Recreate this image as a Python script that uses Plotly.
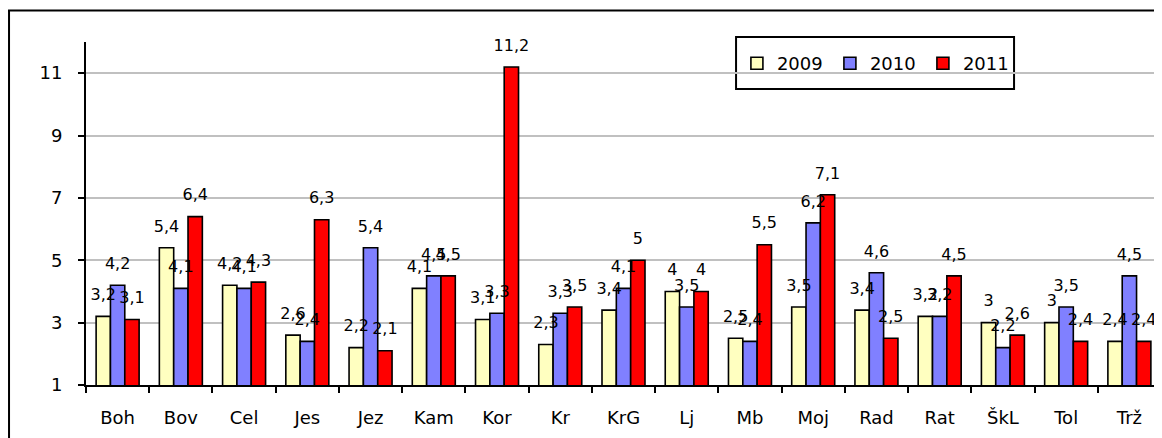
import plotly.graph_objects as go

cats = ["Boh", "Bov", "Cel", "Jes", "Jez", "Kam", "Kor", "Kr", "KrG", "Lj",
        "Mb", "Moj", "Rad", "Rat", "ŠkL", "Tol", "Trž"]
v2009 = [3.2, 5.4, 4.2, 2.6, 2.2, 4.1, 3.1, 2.3, 3.4, 4, 2.5, 3.5, 3.4, 3.2, 3, 3, 2.4]
v2010 = [4.2, 4.1, 4.1, 2.4, 5.4, 4.5, 3.3, 3.3, 4.1, 3.5, 2.4, 6.2, 4.6, 3.2, 2.2, 3.5, 4.5]
v2011 = [3.1, 6.4, 4.3, 6.3, 2.1, 4.5, 11.2, 3.5, 5, 4, 5.5, 7.1, 2.5, 4.5, 2.6, 2.4, 2.4]
years = ["2009", "2010", "2011"]
colors = ["#FFFFC0", "#8080FF", "#FF0000"]

FONT = "DejaVu Sans"

def lab(v):
    return [str(x).replace(".", ",").removesuffix(",0") for x in v]

fig = go.Figure()
for i, (name, vals, col) in enumerate(zip(years, [v2009, v2010, v2011], colors)):
    fig.add_trace(go.Bar(
        x=cats, y=vals, name=name, offsetgroup=str(i),
        marker=dict(color=col, line=dict(color="black", width=1.6)),
        hoverinfo="skip",
    ))
# value labels above the bars
for i, vals in enumerate([v2009, v2010, v2011]):
    fig.add_trace(go.Scatter(
        x=cats, y=vals, mode="markers+text", text=lab(vals),
        textposition="top center", offsetgroup=str(i),
        marker=dict(size=18, opacity=0),
        textfont=dict(family=FONT, size=16, color="black"),
        showlegend=False, hoverinfo="skip", cliponaxis=False,
    ))

# page body has an 8px margin, so the figure is 8px smaller
fig.update_layout(
    width=1154, height=430,
    margin=dict(l=78, r=1, t=34, b=53),
    paper_bgcolor="white", plot_bgcolor="white",
    barmode="group", bargap=0.32, bargroupgap=0,
    scattermode="group", scattergap=0.32,
    font=dict(family=FONT, size=18, color="black"),
    showlegend=True,
    legend=dict(orientation="h", x=0.6055, y=0.991, xanchor="left", yanchor="top",
                bgcolor="rgba(0,0,0,0)", font=dict(size=18, family=FONT),
                entrywidth=48, entrywidthmode="pixels", traceorder="normal"),
    xaxis=dict(type="category", showline=True, linecolor="black", linewidth=2,
               ticks="outside", tickson="boundaries", ticklen=6, tickwidth=2,
               tickcolor="black", showgrid=False, ticklabelstandoff=15,
               tickfont=dict(size=18)),
    yaxis=dict(range=[1, 12], tickvals=[1, 3, 5, 7, 9, 11], showline=True,
               linecolor="black", linewidth=2, ticks="outside", ticklen=6,
               tickwidth=2, tickcolor="black", gridcolor="#C0C0C0", gridwidth=2,
               zeroline=False, ticklabelstandoff=12, tickfont=dict(size=18)),
    shapes=[
        # outer chart frame
        dict(type="rect", xref="paper", yref="paper", x0=-0.0716, x1=1.02,
             y0=-0.4, y1=1.0918, line=dict(color="black", width=2)),
        # legend box
        dict(type="rect", xref="paper", yref="paper", x0=0.6047, x1=0.8633,
             y0=0.863, y1=1.0146, line=dict(color="black", width=2),
             fillcolor="white", layer="below"),
    ],
)

fig.write_html("out.html")
